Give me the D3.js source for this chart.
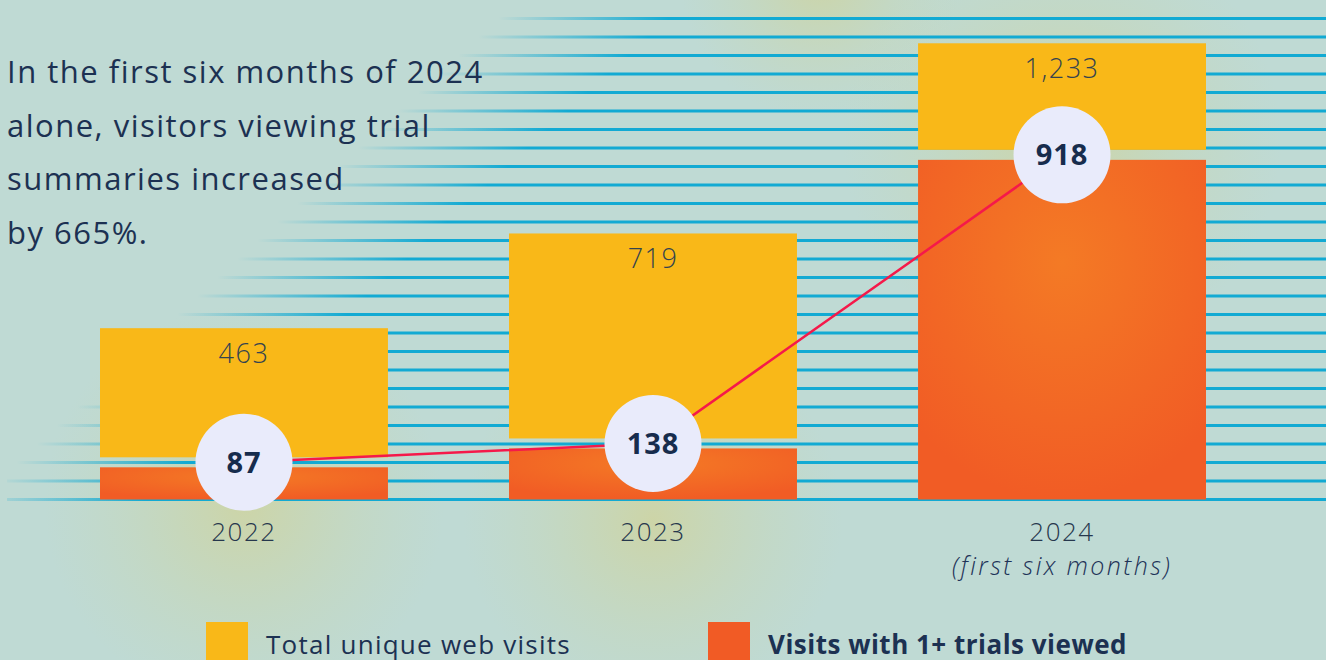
<!DOCTYPE html>
<html>
<head>
<meta charset="utf-8">
<script src="https://cdn.jsdelivr.net/npm/d3@7"></script>
<style>
  body { margin: 0; background: #bfdad4; }
  svg { display: block; }
  text { font-family: "Open Sans", "Noto Sans", sans-serif; }
</style>
</head>
<body>
<svg width="1326" height="660"></svg>
<script>

// data
let years = ['2022', '2023', '2024'];
let subLabels = ['', '', '(first six months)'];
let totalVisits = [463, 719, 1233];
let trialVisits = [87, 138, 918];
let gridTicks = d3.range(0, 1301, 50);
let introLines = ['In the first six months of 2024',
                  'alone, visitors viewing trial',
                  'summaries increased',
                  'by 665%.'];
let legendLabels = ['Total unique web visits', 'Visits with 1+ trials viewed'];

let data = years.map(function(d, i) {
  return { year: d, sub: subLabels[i], total: totalVisits[i], trials: trialVisits[i] };
});

let svg = d3.select('svg');
let defs = svg.append('defs');

let xScale = d3.scaleBand()
               .domain(years)
               .range([100, 1206])
               .paddingInner(0.296)
               .paddingOuter(0);

let yScale = d3.scaleLinear()
               .domain([0, 1300])
               .range([499.5, 18.5]);

// background + soft yellow glows
svg.append('rect')
   .attr('width', 1326)
   .attr('height', 660)
   .attr('fill', '#bfdad4');

let glow = defs.append('radialGradient').attr('id', 'glow');
glow.append('stop').attr('offset', '0%').attr('stop-color', '#d0d39c').attr('stop-opacity', 0.8);
glow.append('stop').attr('offset', '60%').attr('stop-color', '#cbd5a8').attr('stop-opacity', 0.3);
glow.append('stop').attr('offset', '100%').attr('stop-color', '#c8d6b0').attr('stop-opacity', 0);

let glows = [[244, 505, 200], [653, 520, 190], [1062, 140, 220], [820, -20, 140]];
svg.selectAll('circle.glow')
   .data(glows)
   .enter()
   .append('circle')
   .attr('class', 'glow')
   .attr('cx', function(d) { return d[0]; })
   .attr('cy', function(d) { return d[1]; })
   .attr('r', function(d) { return d[2]; })
   .attr('fill', 'url(#glow)');

// grid lines that fade out towards the left along a diagonal
function fadeStart(y) {
  return 500 - 1.085 * (y - 17);
}

gridTicks.forEach(function(t, i) {
  let y = yScale(t);
  let g = defs.append('linearGradient')
              .attr('id', 'line' + i)
              .attr('gradientUnits', 'userSpaceOnUse')
              .attr('x1', fadeStart(y))
              .attr('x2', fadeStart(y) + 170)
              .attr('y1', 0)
              .attr('y2', 0);
  g.append('stop').attr('offset', '0%').attr('stop-color', '#12aad3').attr('stop-opacity', 0);
  g.append('stop').attr('offset', '100%').attr('stop-color', '#12aad3').attr('stop-opacity', 1);
});

svg.append('g')
   .selectAll('line')
   .data(gridTicks)
   .enter()
   .append('line')
   .attr('x1', function(d) { return Math.max(7, fadeStart(yScale(d))); })
   .attr('x2', 1326)
   .attr('y1', function(d) { return yScale(d); })
   .attr('y2', function(d) { return yScale(d); })
   .attr('stroke', function(d, i) { return 'url(#line' + i + ')'; })
   .attr('stroke-width', 3);

// bars
let orangeGrad = defs.append('radialGradient').attr('id', 'orangeGrad')
                     .attr('cx', '50%').attr('cy', '30%').attr('r', '70%');
orangeGrad.append('stop').attr('offset', '0%').attr('stop-color', '#f47a25');
orangeGrad.append('stop').attr('offset', '100%').attr('stop-color', '#f15c25');

let gap = 10;

svg.selectAll('rect.total')
   .data(data)
   .enter()
   .append('rect')
   .attr('class', 'total')
   .attr('x', function(d) { return xScale(d.year); })
   .attr('width', xScale.bandwidth())
   .attr('y', function(d) { return yScale(d.total); })
   .attr('height', function(d) { return yScale(d.trials) - gap - yScale(d.total); })
   .attr('fill', '#f9b818');

svg.selectAll('rect.trials')
   .data(data)
   .enter()
   .append('rect')
   .attr('class', 'trials')
   .attr('x', function(d) { return xScale(d.year); })
   .attr('width', xScale.bandwidth())
   .attr('y', function(d) { return yScale(d.trials); })
   .attr('height', function(d) { return yScale(0) - yScale(d.trials); })
   .attr('fill', 'url(#orangeGrad)');

svg.selectAll('text.total')
   .data(data)
   .enter()
   .append('text')
   .attr('class', 'total')
   .attr('x', function(d) { return xScale(d.year) + xScale.bandwidth() / 2; })
   .attr('y', function(d) { return yScale(d.total) + 35; })
   .attr('text-anchor', 'middle')
   .attr('font-size', 27)
   .attr('font-weight', 300)
   .attr('letter-spacing', 1.5)
   .attr('fill', '#34434f')
   .text(function(d) { return d3.format(',')(d.total); });

// trend line + bubbles
let trialLine = d3.line()
                  .x(function(d) { return xScale(d.year) + xScale.bandwidth() / 2; })
                  .y(function(d) { return yScale(d.trials) - 5; });

svg.append('path')
   .attr('d', trialLine(data))
   .attr('fill', 'none')
   .attr('stroke', '#f5194a')
   .attr('stroke-width', 2.5);

svg.selectAll('circle.trials')
   .data(data)
   .enter()
   .append('circle')
   .attr('class', 'trials')
   .attr('cx', function(d) { return xScale(d.year) + xScale.bandwidth() / 2; })
   .attr('cy', function(d) { return yScale(d.trials) - 5; })
   .attr('r', 48.5)
   .attr('fill', '#e9ebfb');

svg.selectAll('text.trials')
   .data(data)
   .enter()
   .append('text')
   .attr('class', 'trials')
   .attr('x', function(d) { return xScale(d.year) + xScale.bandwidth() / 2; })
   .attr('y', function(d) { return yScale(d.trials) - 5; })
   .attr('dy', '0.36em')
   .attr('text-anchor', 'middle')
   .attr('font-size', 29)
   .attr('font-weight', 700)
   .attr('letter-spacing', 1)
   .attr('fill', '#172c4d')
   .text(function(d) { return d.trials; });

// year labels
svg.selectAll('text.year')
   .data(data)
   .enter()
   .append('text')
   .attr('class', 'year')
   .attr('x', function(d) { return xScale(d.year) + xScale.bandwidth() / 2; })
   .attr('y', 541)
   .attr('text-anchor', 'middle')
   .attr('font-size', 26)
   .attr('font-weight', 300)
   .attr('letter-spacing', 1.5)
   .attr('fill', '#26374d')
   .text(function(d) { return d.year; });

svg.selectAll('text.sub')
   .data(data.filter(function(d) { return d.sub; }))
   .enter()
   .append('text')
   .attr('class', 'sub')
   .attr('x', function(d) { return xScale(d.year) + xScale.bandwidth() / 2; })
   .attr('y', 575)
   .attr('text-anchor', 'middle')
   .attr('font-size', 25)
   .attr('font-weight', 300)
   .attr('font-style', 'italic')
   .attr('letter-spacing', 2.4)
   .attr('fill', '#1e3358')
   .text(function(d) { return d.sub; });

// intro text
svg.append('text')
   .attr('x', 7)
   .attr('y', 83)
   .attr('font-size', 31)
   .attr('letter-spacing', 1.5)
   .attr('fill', '#1c3152')
   .selectAll('tspan')
   .data(introLines)
   .enter()
   .append('tspan')
   .attr('x', 7)
   .attr('dy', function(d, i) { return i === 0 ? 0 : 53.5; })
   .text(function(d) { return d; });

// legend
let legend = svg.append('g');
let legendColors = ['#f9b818', '#f15b25'];
let legendX = [206, 708];

legend.selectAll('rect')
      .data(legendLabels)
      .enter()
      .append('rect')
      .attr('x', function(d, i) { return legendX[i]; })
      .attr('y', 622)
      .attr('width', 42)
      .attr('height', 42)
      .attr('fill', function(d, i) { return legendColors[i]; });

legend.selectAll('text')
      .data(legendLabels)
      .enter()
      .append('text')
      .attr('x', function(d, i) { return legendX[i] + 60; })
      .attr('y', 654)
      .attr('font-size', 26)
      .attr('font-weight', function(d, i) { return i === 1 ? 700 : 400; })
      .attr('letter-spacing', function(d, i) { return i === 1 ? 0.5 : 1.25; })
      .attr('fill', '#1c3152')
      .text(function(d) { return d; });

</script>
</body>
</html>
